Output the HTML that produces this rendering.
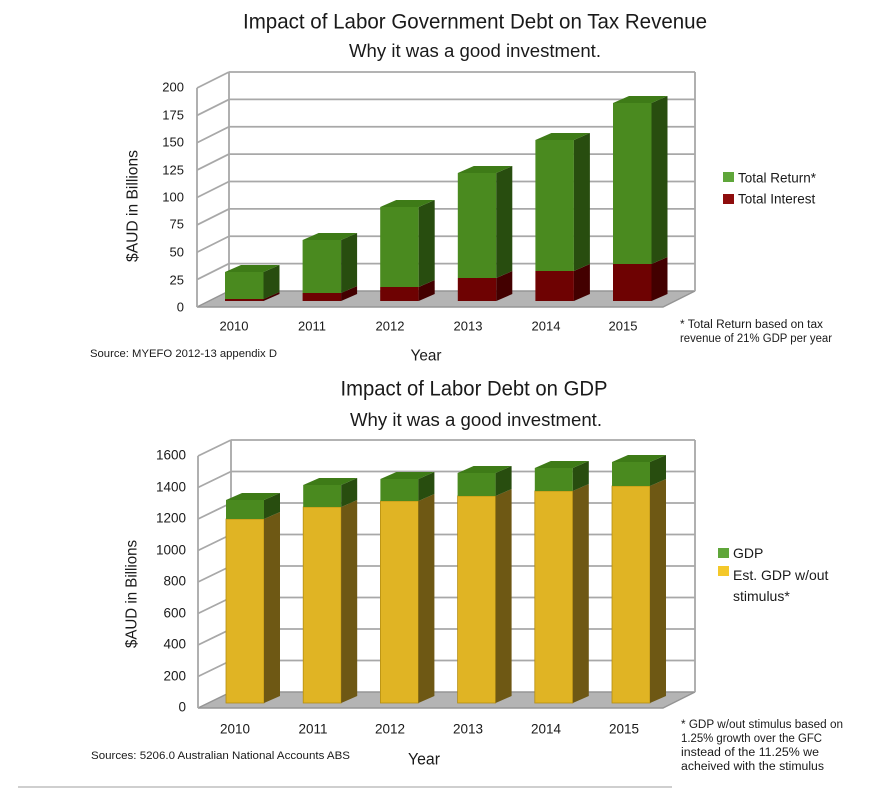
<!DOCTYPE html>
<html>
<head>
<meta charset="utf-8">
<style>
html,body{margin:0;padding:0;background:#fff;}
svg{display:block;}
text{font-family:"Liberation Sans",Arial,sans-serif;fill:#1a1a1a;}
</style>
</head>
<body>
<svg width="894" height="789" viewBox="0 0 894 789" xmlns="http://www.w3.org/2000/svg">
<rect width="894" height="789" fill="#fff"/>

<!-- ================= TOP CHART ================= -->
<text x="475" y="22" font-size="21" text-anchor="middle" dominant-baseline="central" textLength="464" lengthAdjust="spacingAndGlyphs">Impact of Labor Government Debt on Tax Revenue</text>
<text x="475" y="51" font-size="18" text-anchor="middle" dominant-baseline="central" textLength="252" lengthAdjust="spacingAndGlyphs">Why it was a good investment.</text>

<!-- floor -->
<polygon points="197,307 663,307 695,291 229,291" fill="#b4b4b4" stroke="#959595" stroke-width="1.5"/>
<g stroke="#a8a8a8" stroke-width="1.8" fill="none">
  <line x1="229" y1="72" x2="695" y2="72"/>
  <line x1="229" y1="99.4" x2="695" y2="99.4"/>
  <line x1="229" y1="126.75" x2="695" y2="126.75"/>
  <line x1="229" y1="154.1" x2="695" y2="154.1"/>
  <line x1="229" y1="181.5" x2="695" y2="181.5"/>
  <line x1="229" y1="208.9" x2="695" y2="208.9"/>
  <line x1="229" y1="236.25" x2="695" y2="236.25"/>
  <line x1="229" y1="263.6" x2="695" y2="263.6"/>
  <line x1="197" y1="88" x2="229" y2="72"/>
  <line x1="197" y1="115.4" x2="229" y2="99.4"/>
  <line x1="197" y1="142.75" x2="229" y2="126.75"/>
  <line x1="197" y1="170.1" x2="229" y2="154.1"/>
  <line x1="197" y1="197.5" x2="229" y2="181.5"/>
  <line x1="197" y1="224.9" x2="229" y2="208.9"/>
  <line x1="197" y1="252.25" x2="229" y2="236.25"/>
  <line x1="197" y1="279.6" x2="229" y2="263.6"/>
  <line x1="197" y1="88" x2="197" y2="307"/>
  <line x1="229" y1="72" x2="229" y2="291"/>
  <line x1="695" y1="72" x2="695" y2="291"/>
</g>

<!-- bars top -->
<g>
  <!-- 2010 -->
  <rect x="225" y="299" width="38.5" height="2" fill="#6e0202"/>
  <polygon points="263.5,299 279.5,292 279.5,294 263.5,301" fill="#430000"/>
  <rect x="225" y="272" width="38.5" height="27" fill="#4a8a1f"/>
  <polygon points="263.5,272 279.5,265 279.5,292 263.5,299" fill="#284d0f"/>
  <polygon points="225,272 263.5,272 279.5,265 241,265" fill="#3e7b17"/>
  <!-- 2011 -->
  <rect x="302.6" y="293" width="38.5" height="8" fill="#6e0202"/>
  <polygon points="341.1,293 357.1,286 357.1,294 341.1,301" fill="#430000"/>
  <rect x="302.6" y="240" width="38.5" height="53" fill="#4a8a1f"/>
  <polygon points="341.1,240 357.1,233 357.1,286 341.1,293" fill="#284d0f"/>
  <polygon points="302.6,240 341.1,240 357.1,233 318.6,233" fill="#3e7b17"/>
  <!-- 2012 -->
  <rect x="380.2" y="287" width="38.5" height="14" fill="#6e0202"/>
  <polygon points="418.7,287 434.7,280 434.7,294 418.7,301" fill="#430000"/>
  <rect x="380.2" y="207" width="38.5" height="80" fill="#4a8a1f"/>
  <polygon points="418.7,207 434.7,200 434.7,280 418.7,287" fill="#284d0f"/>
  <polygon points="380.2,207 418.7,207 434.7,200 396.2,200" fill="#3e7b17"/>
  <!-- 2013 -->
  <rect x="457.8" y="278" width="38.5" height="23" fill="#6e0202"/>
  <polygon points="496.3,278 512.3,271 512.3,294 496.3,301" fill="#430000"/>
  <rect x="457.8" y="173" width="38.5" height="105" fill="#4a8a1f"/>
  <polygon points="496.3,173 512.3,166 512.3,271 496.3,278" fill="#284d0f"/>
  <polygon points="457.8,173 496.3,173 512.3,166 473.8,166" fill="#3e7b17"/>
  <!-- 2014 -->
  <rect x="535.4" y="271" width="38.5" height="30" fill="#6e0202"/>
  <polygon points="573.9,271 589.9,264 589.9,294 573.9,301" fill="#430000"/>
  <rect x="535.4" y="140" width="38.5" height="131" fill="#4a8a1f"/>
  <polygon points="573.9,140 589.9,133 589.9,264 573.9,271" fill="#284d0f"/>
  <polygon points="535.4,140 573.9,140 589.9,133 551.4,133" fill="#3e7b17"/>
  <!-- 2015 -->
  <rect x="613" y="264" width="38.5" height="37" fill="#6e0202"/>
  <polygon points="651.5,264 667.5,257 667.5,294 651.5,301" fill="#430000"/>
  <rect x="613" y="103" width="38.5" height="161" fill="#4a8a1f"/>
  <polygon points="651.5,103 667.5,96 667.5,257 651.5,264" fill="#284d0f"/>
  <polygon points="613,103 651.5,103 667.5,96 629,96" fill="#3e7b17"/>
</g>

<!-- y ticks top -->
<g font-size="13" text-anchor="end" dominant-baseline="central">
  <text x="184" y="87">200</text>
  <text x="184" y="115">175</text>
  <text x="184" y="142">150</text>
  <text x="184" y="170">125</text>
  <text x="184" y="197">100</text>
  <text x="184" y="224">75</text>
  <text x="184" y="252">50</text>
  <text x="184" y="280">25</text>
  <text x="184" y="307">0</text>
</g>
<text transform="translate(133,206) rotate(-90)" font-size="16" text-anchor="middle" dominant-baseline="central" textLength="112" lengthAdjust="spacingAndGlyphs">$AUD in Billions</text>

<!-- x labels top -->
<g font-size="13" text-anchor="middle" dominant-baseline="central">
  <text x="234" y="326">2010</text>
  <text x="312" y="326">2011</text>
  <text x="390" y="326">2012</text>
  <text x="468" y="326">2013</text>
  <text x="546" y="326">2014</text>
  <text x="623" y="326">2015</text>
</g>
<text x="426" y="356" font-size="16" text-anchor="middle" dominant-baseline="central" textLength="31" lengthAdjust="spacingAndGlyphs">Year</text>
<text x="90" y="354" font-size="11" dominant-baseline="central" textLength="187" lengthAdjust="spacingAndGlyphs">Source: MYEFO 2012-13 appendix D</text>

<!-- legend top -->
<rect x="723" y="172" width="11" height="10" fill="#5fa63a"/>
<rect x="723" y="194" width="11" height="10" fill="#8e0d0d"/>
<g font-size="13.5" dominant-baseline="central">
  <text x="738" y="178">Total Return*</text>
  <text x="738" y="199">Total Interest</text>
</g>

<!-- footnote top -->
<g font-size="11.5" dominant-baseline="central">
  <text x="680" y="325" textLength="143" lengthAdjust="spacingAndGlyphs">* Total Return based on tax</text>
  <text x="680" y="339" textLength="152" lengthAdjust="spacingAndGlyphs">revenue of 21% GDP per year</text>
</g>

<!-- ================= BOTTOM CHART ================= -->
<text x="474" y="389" font-size="21" text-anchor="middle" dominant-baseline="central" textLength="267" lengthAdjust="spacingAndGlyphs">Impact of Labor Debt on GDP</text>
<text x="476" y="420" font-size="18" text-anchor="middle" dominant-baseline="central" textLength="252" lengthAdjust="spacingAndGlyphs">Why it was a good investment.</text>

<polygon points="198,708 663,708 695,692 231,692" fill="#b4b4b4" stroke="#959595" stroke-width="1.5"/>
<g stroke="#a8a8a8" stroke-width="1.8" fill="none">
  <line x1="231" y1="440" x2="695" y2="440"/>
  <line x1="231" y1="471.5" x2="695" y2="471.5"/>
  <line x1="231" y1="503" x2="695" y2="503"/>
  <line x1="231" y1="534.5" x2="695" y2="534.5"/>
  <line x1="231" y1="566" x2="695" y2="566"/>
  <line x1="231" y1="597.5" x2="695" y2="597.5"/>
  <line x1="231" y1="629" x2="695" y2="629"/>
  <line x1="231" y1="660.5" x2="695" y2="660.5"/>
  <line x1="198" y1="456" x2="231" y2="440"/>
  <line x1="198" y1="487.5" x2="231" y2="471.5"/>
  <line x1="198" y1="519" x2="231" y2="503"/>
  <line x1="198" y1="550.5" x2="231" y2="534.5"/>
  <line x1="198" y1="582" x2="231" y2="566"/>
  <line x1="198" y1="613.5" x2="231" y2="597.5"/>
  <line x1="198" y1="645" x2="231" y2="629"/>
  <line x1="198" y1="676.5" x2="231" y2="660.5"/>
  <line x1="198" y1="456" x2="198" y2="708"/>
  <line x1="231" y1="440" x2="231" y2="692"/>
  <line x1="695" y1="440" x2="695" y2="692"/>
</g>

<g>
  <!-- 2010 -->
  <rect x="226" y="519" width="38" height="184" fill="#e0b424" stroke="#b58e12" stroke-width="0.8"/>
  <polygon points="264,519 280,512 280,696 264,703" fill="#6e5814"/>
  <rect x="226" y="500" width="38" height="19" fill="#4a8a1f"/>
  <polygon points="264,500 280,493 280,512 264,519" fill="#284d0f"/>
  <polygon points="226,500 264,500 280,493 242,493" fill="#3e7b17"/>
  <!-- 2011 -->
  <rect x="303.2" y="507" width="38" height="196" fill="#e0b424" stroke="#b58e12" stroke-width="0.8"/>
  <polygon points="341.2,507 357.2,500 357.2,696 341.2,703" fill="#6e5814"/>
  <rect x="303.2" y="485" width="38" height="22" fill="#4a8a1f"/>
  <polygon points="341.2,485 357.2,478 357.2,500 341.2,507" fill="#284d0f"/>
  <polygon points="303.2,485 341.2,485 357.2,478 319.2,478" fill="#3e7b17"/>
  <!-- 2012 -->
  <rect x="380.4" y="501" width="38" height="202" fill="#e0b424" stroke="#b58e12" stroke-width="0.8"/>
  <polygon points="418.4,501 434.4,494 434.4,696 418.4,703" fill="#6e5814"/>
  <rect x="380.4" y="479" width="38" height="22" fill="#4a8a1f"/>
  <polygon points="418.4,479 434.4,472 434.4,494 418.4,501" fill="#284d0f"/>
  <polygon points="380.4,479 418.4,479 434.4,472 396.4,472" fill="#3e7b17"/>
  <!-- 2013 -->
  <rect x="457.6" y="496" width="38" height="207" fill="#e0b424" stroke="#b58e12" stroke-width="0.8"/>
  <polygon points="495.6,496 511.6,489 511.6,696 495.6,703" fill="#6e5814"/>
  <rect x="457.6" y="473" width="38" height="23" fill="#4a8a1f"/>
  <polygon points="495.6,473 511.6,466 511.6,489 495.6,496" fill="#284d0f"/>
  <polygon points="457.6,473 495.6,473 511.6,466 473.6,466" fill="#3e7b17"/>
  <!-- 2014 -->
  <rect x="534.8" y="491" width="38" height="212" fill="#e0b424" stroke="#b58e12" stroke-width="0.8"/>
  <polygon points="572.8,491 588.8,484 588.8,696 572.8,703" fill="#6e5814"/>
  <rect x="534.8" y="468" width="38" height="23" fill="#4a8a1f"/>
  <polygon points="572.8,468 588.8,461 588.8,484 572.8,491" fill="#284d0f"/>
  <polygon points="534.8,468 572.8,468 588.8,461 550.8,461" fill="#3e7b17"/>
  <!-- 2015 -->
  <rect x="612" y="486" width="38" height="217" fill="#e0b424" stroke="#b58e12" stroke-width="0.8"/>
  <polygon points="650,486 666,479 666,696 650,703" fill="#6e5814"/>
  <rect x="612" y="462" width="38" height="24" fill="#4a8a1f"/>
  <polygon points="650,462 666,455 666,479 650,486" fill="#284d0f"/>
  <polygon points="612,462 650,462 666,455 628,455" fill="#3e7b17"/>
</g>

<g font-size="13.5" text-anchor="end" dominant-baseline="central">
  <text x="186" y="455">1600</text>
  <text x="186" y="487">1400</text>
  <text x="186" y="518">1200</text>
  <text x="186" y="550">1000</text>
  <text x="186" y="581">800</text>
  <text x="186" y="613">600</text>
  <text x="186" y="644">400</text>
  <text x="186" y="676">200</text>
  <text x="186" y="707">0</text>
</g>
<text transform="translate(132,594) rotate(-90)" font-size="16" text-anchor="middle" dominant-baseline="central" textLength="108" lengthAdjust="spacingAndGlyphs">$AUD in Billions</text>

<g font-size="13.5" text-anchor="middle" dominant-baseline="central">
  <text x="235" y="729">2010</text>
  <text x="313" y="729">2011</text>
  <text x="390" y="729">2012</text>
  <text x="468" y="729">2013</text>
  <text x="546" y="729">2014</text>
  <text x="624" y="729">2015</text>
</g>
<text x="424" y="759" font-size="17" text-anchor="middle" dominant-baseline="central" textLength="32" lengthAdjust="spacingAndGlyphs">Year</text>
<text x="91" y="756" font-size="11" dominant-baseline="central" textLength="259" lengthAdjust="spacingAndGlyphs">Sources: 5206.0 Australian National Accounts ABS</text>

<rect x="718" y="548" width="11" height="10" fill="#5fa63a"/>
<rect x="718" y="566" width="11" height="10" fill="#f4c82a"/>
<g font-size="14" dominant-baseline="central">
  <text x="733" y="553">GDP</text>
  <text x="733" y="575">Est. GDP w/out</text>
  <text x="733" y="596">stimulus*</text>
</g>

<g font-size="11.5" dominant-baseline="central">
  <text x="681" y="725" textLength="162" lengthAdjust="spacingAndGlyphs">* GDP w/out stimulus based on</text>
  <text x="681" y="739" textLength="141" lengthAdjust="spacingAndGlyphs">1.25% growth over the GFC</text>
  <text x="681" y="753" textLength="138" lengthAdjust="spacingAndGlyphs">instead of the 11.25% we</text>
  <text x="681" y="767" textLength="143" lengthAdjust="spacingAndGlyphs">acheived with the stimulus</text>
</g>

<line x1="18" y1="787" x2="672" y2="787" stroke="#cfcfcf" stroke-width="2"/>
</svg>
</body>
</html>
